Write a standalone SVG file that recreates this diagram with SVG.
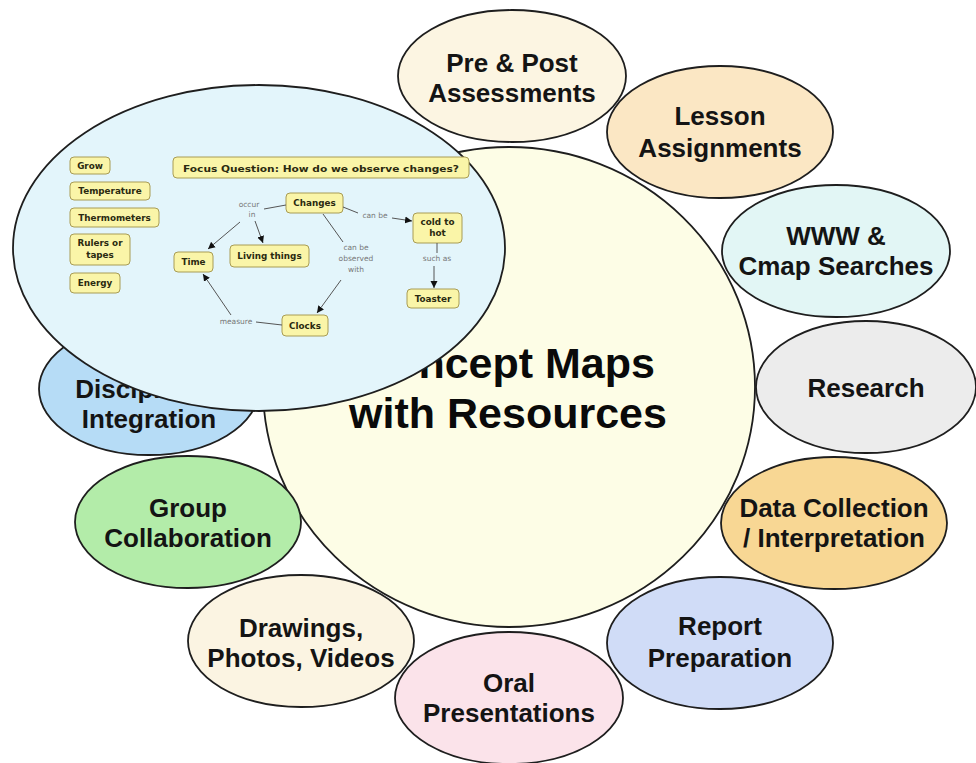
<svg xmlns="http://www.w3.org/2000/svg" width="976" height="763" viewBox="0 0 976 763">
<style>
.bub{stroke:#1e1e1e;stroke-width:1.8}
.lbl{font-family:"Liberation Sans",Arial,sans-serif;font-weight:bold;font-size:26px;fill:#141414;text-anchor:middle}
.big{font-family:"Liberation Sans",Arial,sans-serif;font-weight:bold;font-size:43px;fill:#0a0a0a;text-anchor:middle}
.box{fill:#faf5a8;stroke:#a89c55;stroke-width:1}
.bt{font-family:"DejaVu Sans",Verdana,sans-serif;font-weight:bold;font-size:8.8px;fill:#2a2a10;text-anchor:middle}
.lp{font-family:"DejaVu Sans",Verdana,sans-serif;font-size:7.5px;fill:#777;text-anchor:middle}
.cn{stroke:#555;stroke-width:1;fill:none}
</style>
<defs>
<marker id="ah" markerWidth="8" markerHeight="8" refX="7" refY="4" orient="auto" markerUnits="userSpaceOnUse">
<path d="M0,0.5 L7,4 L0,7.5 Z" fill="#111"/>
</marker>
</defs>
<rect width="976" height="763" fill="#ffffff"/>

<g id="main">
<ellipse class="bub" cx="509" cy="387" rx="246" ry="240" fill="#fdfde6"/>
<text class="big" x="508" y="378">Concept Maps</text>
<text class="big" x="508" y="428">with Resources</text>
</g>
<g id="pre-post">
<ellipse class="bub" cx="512" cy="76" rx="114" ry="66" fill="#fcf5e2"/>
<text class="lbl" x="512" y="72">Pre &amp; Post</text>
<text class="lbl" x="512" y="102">Assessments</text>
</g>
<g id="lesson">
<ellipse class="bub" cx="720" cy="132" rx="113" ry="66" fill="#fbe7c4"/>
<text class="lbl" x="720" y="125">Lesson</text>
<text class="lbl" x="720" y="157">Assignments</text>
</g>
<g id="www">
<ellipse class="bub" cx="836" cy="251" rx="114" ry="66" fill="#e2f6f5"/>
<text class="lbl" x="836" y="245">WWW &amp;</text>
<text class="lbl" x="836" y="275">Cmap Searches</text>
</g>
<g id="research">
<ellipse class="bub" cx="866" cy="387" rx="110" ry="66" fill="#ececec"/>
<text class="lbl" x="866" y="397">Research</text>
</g>
<g id="data">
<ellipse class="bub" cx="834" cy="523" rx="113" ry="66" fill="#f8d794"/>
<text class="lbl" x="834" y="517">Data Collection</text>
<text class="lbl" x="834" y="547">/ Interpretation</text>
</g>
<g id="report">
<ellipse class="bub" cx="720" cy="643" rx="113" ry="66" fill="#d0dcf7"/>
<text class="lbl" x="720" y="635">Report</text>
<text class="lbl" x="720" y="667">Preparation</text>
</g>
<g id="oral">
<ellipse class="bub" cx="509" cy="698" rx="114" ry="66" fill="#fbe3ea"/>
<text class="lbl" x="509" y="692">Oral</text>
<text class="lbl" x="509" y="722">Presentations</text>
</g>
<g id="drawings">
<ellipse class="bub" cx="301" cy="641" rx="113" ry="66" fill="#fbf4e2"/>
<text class="lbl" x="301" y="637">Drawings,</text>
<text class="lbl" x="301" y="667">Photos, Videos</text>
</g>
<g id="group">
<ellipse class="bub" cx="188" cy="522" rx="113" ry="66" fill="#b3eca9"/>
<text class="lbl" x="188" y="517">Group</text>
<text class="lbl" x="188" y="547">Collaboration</text>
</g>
<g id="disciplinary">
<ellipse class="bub" cx="149" cy="389" rx="110" ry="66" fill="#b6dcf6"/>
<text class="lbl" x="149" y="398">Disciplinary</text>
<text class="lbl" x="149" y="428">Integration</text>
</g>

<g id="inset">
<ellipse class="bub" cx="259" cy="248" rx="246" ry="163" fill="#e3f5fb" stroke-width="2.2"/>
<g id="grow"><rect class="box" x="70" y="157" width="40" height="17" rx="4"/><text class="bt" x="90" y="168.5">Grow</text></g>
<g id="temperature"><rect class="box" x="70" y="182" width="80" height="18" rx="4"/><text class="bt" x="110" y="194">Temperature</text></g>
<g id="thermometers"><rect class="box" x="70" y="208" width="89" height="19" rx="4"/><text class="bt" x="114.5" y="221">Thermometers</text></g>
<g id="rulers"><rect class="box" x="70" y="234" width="60" height="31" rx="4"/><text class="bt" x="100" y="246">Rulers or</text><text class="bt" x="100" y="258">tapes</text></g>
<g id="energy"><rect class="box" x="70" y="273" width="50" height="20" rx="4"/><text class="bt" x="95" y="286">Energy</text></g>
<g id="focus"><rect class="box" x="173" y="157" width="296" height="21" rx="4"/><text class="bt" x="321" y="171.5" font-size="10" textLength="276" lengthAdjust="spacingAndGlyphs">Focus Question: How do we observe changes?</text></g>
<g id="changes"><rect class="box" x="286" y="193" width="57" height="20" rx="4"/><text class="bt" x="314.5" y="206">Changes</text></g>
<g id="coldhot"><rect class="box" x="413" y="213" width="49" height="30" rx="4"/><text class="bt" x="437.5" y="225">cold to</text><text class="bt" x="437.5" y="236">hot</text></g>
<g id="time"><rect class="box" x="174" y="252" width="39" height="20" rx="4"/><text class="bt" x="193.5" y="265">Time</text></g>
<g id="living"><rect class="box" x="230" y="245" width="79" height="22" rx="4"/><text class="bt" x="269.5" y="259">Living things</text></g>
<g id="toaster"><rect class="box" x="407" y="289" width="52" height="19" rx="4"/><text class="bt" x="433" y="302">Toaster</text></g>
<g id="clocks"><rect class="box" x="282" y="315" width="46" height="21" rx="4"/><text class="bt" x="305" y="329">Clocks</text></g>
</g>

<g id="connectors">
<text class="lp" x="249" y="207">occur</text>
<text class="lp" x="252" y="217">in</text>
<path class="cn" d="M264,209 L286,205"/>
<path class="cn" d="M240,222 L208,249" marker-end="url(#ah)"/>
<path class="cn" d="M255,221 L263,243" marker-end="url(#ah)"/>
<text class="lp" x="375" y="218">can be</text>
<path class="cn" d="M343,207 L358,213"/>
<path class="cn" d="M392,218 L412,221" marker-end="url(#ah)"/>
<text class="lp" x="356" y="250">can be</text>
<text class="lp" x="356" y="261">observed</text>
<text class="lp" x="356" y="272">with</text>
<path class="cn" d="M323,214 L343,242"/>
<path class="cn" d="M341,280 L317,313" marker-end="url(#ah)"/>
<text class="lp" x="437" y="261">such as</text>
<path class="cn" d="M437,243 L437,253"/>
<path class="cn" d="M434,266 L434,288" marker-end="url(#ah)"/>
<text class="lp" x="236" y="324">measure</text>
<path class="cn" d="M282,325 L256,322"/>
<path class="cn" d="M231,315 L203,274" marker-end="url(#ah)"/>
</g>
</svg>
